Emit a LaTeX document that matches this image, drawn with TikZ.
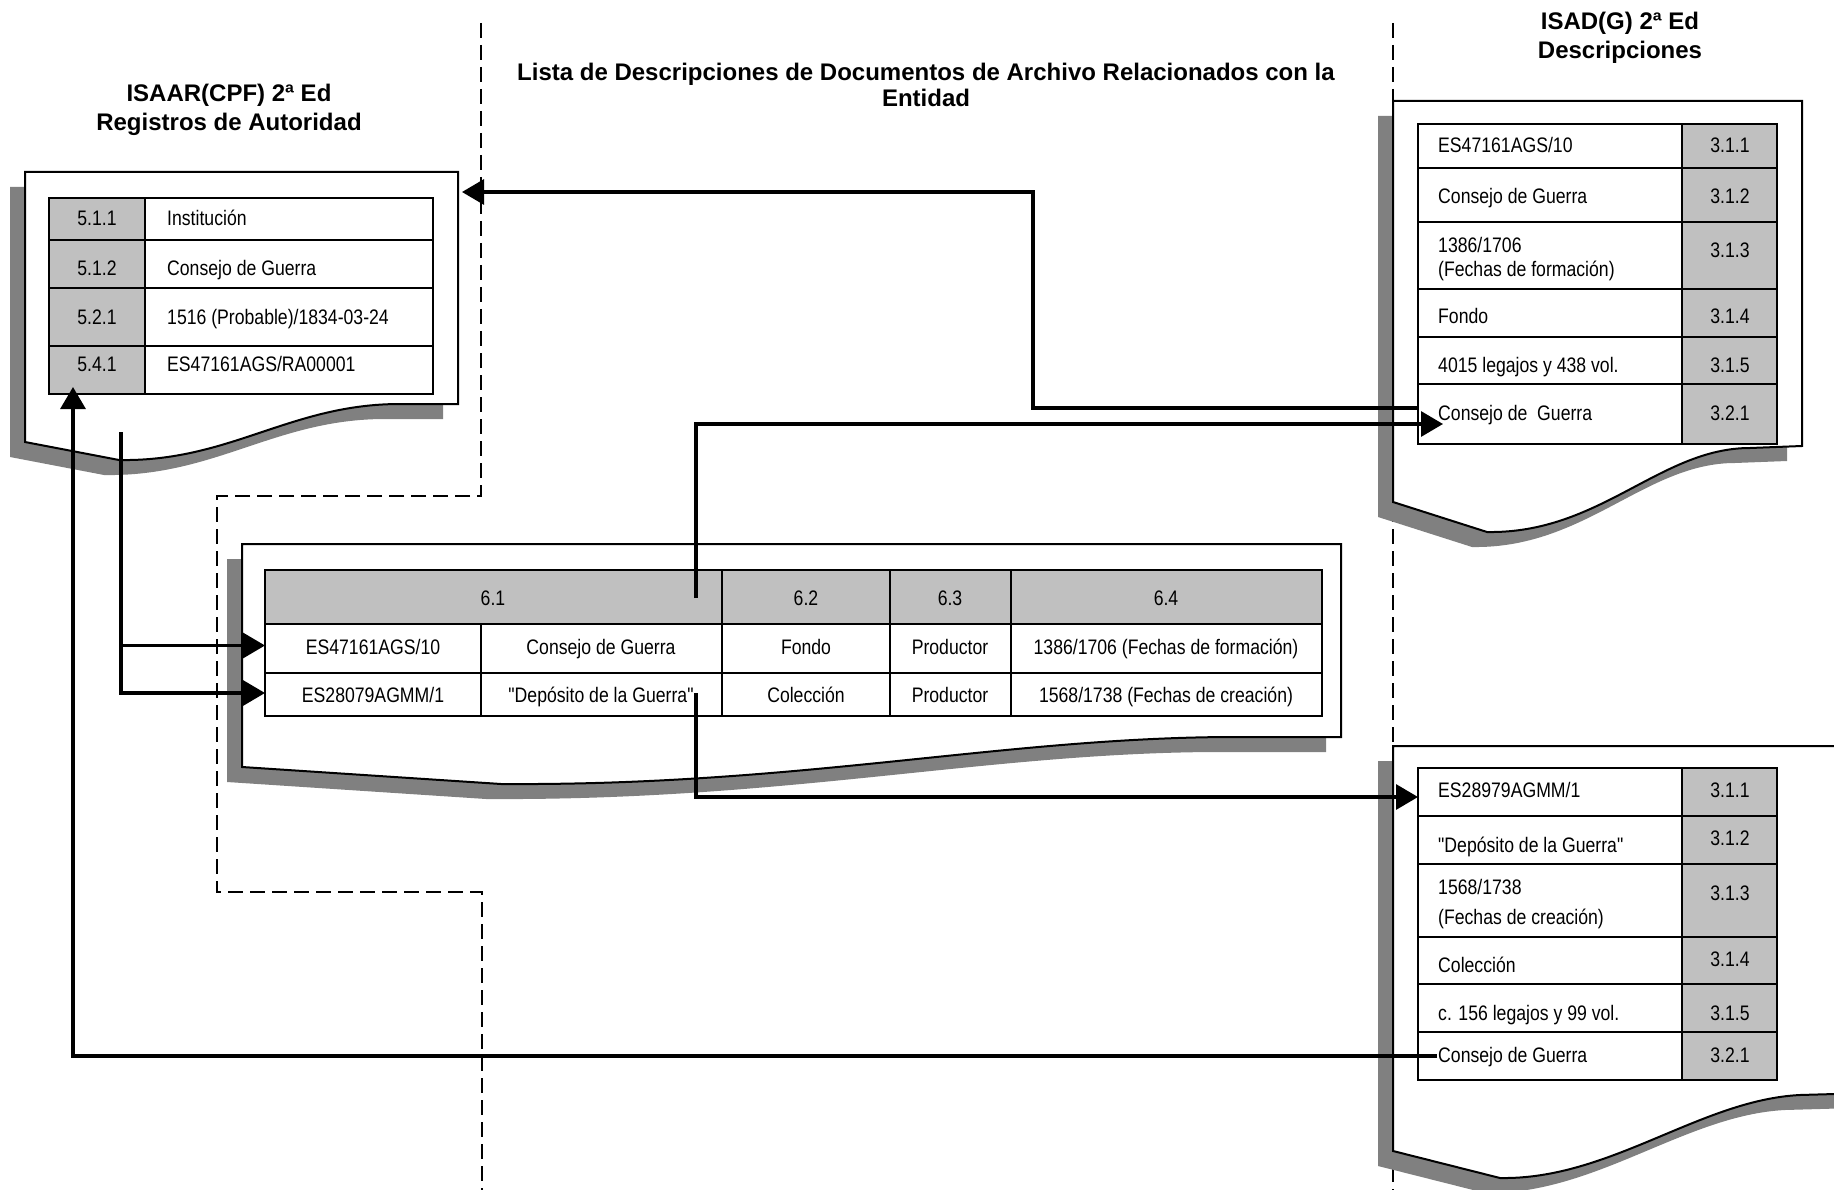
\documentclass[tikz,border=0pt]{standalone}
\usepackage{fontspec}
\setmainfont{Liberation Sans}
\newfontfamily\narrowf[FakeStretch=0.84]{Liberation Sans}
\usetikzlibrary{arrows.meta,fit}
\definecolor{shadowgray}{HTML}{808080}
\definecolor{cellgray}{HTML}{C0C0C0}
\tikzset{
  docline/.style={draw=black, line width=2pt, fill=white, line join=miter},
  docshadow/.style={fill=shadowgray},
  cellbox/.style={draw=black, line width=2pt, inner sep=0pt, outer sep=0pt},
  graycell/.style={cellbox, fill=cellgray},
  whitecell/.style={cellbox, fill=white},
  celltext/.style={font=\narrowf\fontsize{21}{25}\selectfont, inner sep=0pt, text height=15pt, text depth=0pt},
  titletext/.style={font=\bfseries\fontsize{24}{28}\selectfont, inner sep=0pt, text height=17pt, text depth=0pt},
  divider/.style={draw=black, line width=1.8pt, dash pattern=on 15pt off 7pt},
  conn/.style={draw=black, line width=3.2pt},
  tip/.style={-{Triangle[length=22pt,width=25pt]}},
}
\def\ldpath{(25,172) -- (458,172) -- (458,404) -- (400,404) .. controls (290,404) and (230,462) .. (119,460) -- (25,442) -- cycle}
\def\mdpath{(242,544) -- (1341,544) -- (1341,737) -- (1230,737) .. controls (1000,738) and (800,786) .. (501,784) -- (242,767) -- cycle}
\def\rdapath{(1393,101) -- (1802,101) -- (1802,446) -- (1750,448) .. controls (1660,448) and (1600,534) .. (1487,532) -- (1393,502) -- cycle}
\def\rdbpath{(1393,746) -- (1870,746) -- (1870,1093) -- (1800,1095) .. controls (1700,1100) and (1610,1180) .. (1500,1178) -- (1393,1151) -- cycle}
\begin{document}
\begin{tikzpicture}[x=1pt,y=-1pt]
\useasboundingbox (0,0) rectangle (1834,1190);
\fill[white] (0,0) rectangle (1834,1190);
\clip (0,0) rectangle (1834,1190);

% section dividers
\draw[divider] (481,23) -- (481,496) -- (217,496) -- (217,892) -- (482,892) -- (482,1190);
\draw[divider] (1393,23) -- (1393,1190);

% titles
\node[titletext] (tl1) at (229,93) {ISAAR(CPF) 2ª Ed};
\node[titletext] (tl2) at (229,122) {Registros de Autoridad};
\node[titletext] (tm1) at (926,72) {Lista de Descripciones de Documentos de Archivo Relacionados con la};
\node[titletext] (tm2) at (926,98) {Entidad};
\node[titletext] (tr1) at (1620,21) {ISAD(G) 2ª Ed};
\node[titletext] (tr2) at (1620,50) {Descripciones};

% document sheets with shadows
\begin{scope}[shift={(-15,15)}]
  \path[docshadow] \ldpath;
  \path[docshadow] \mdpath;
  \path[docshadow] \rdapath;
  \path[docshadow] \rdbpath;
\end{scope}
\path[docline] \ldpath;
\path[docline] \mdpath;
\path[docline] \rdapath;
\path[docline] \rdbpath;

% ---------- left table (ISAAR)
\node[graycell,  fit={(49,198) (145,240)}] (lt1g) {};
\node[whitecell, fit={(145,198) (433,240)}] (lt1t) {};
\node[graycell,  fit={(49,240) (145,288)}] (lt2g) {};
\node[whitecell, fit={(145,240) (433,288)}] (lt2t) {};
\node[graycell,  fit={(49,288) (145,346)}] (lt3g) {};
\node[whitecell, fit={(145,288) (433,346)}] (lt3t) {};
\node[graycell,  fit={(49,346) (145,394)}] (lt4g) {};
\node[whitecell, fit={(145,346) (433,394)}] (lt4t) {};
\node[celltext] (x511) at (97,218) {5.1.1};
\node[celltext, anchor=west] (v511) at (167,218) {Institución};
\node[celltext] (x512) at (97,268) {5.1.2};
\node[celltext, anchor=west] (v512) at (167,268) {Consejo de Guerra};
\node[celltext] (x521) at (97,317) {5.2.1};
\node[celltext, anchor=west] (v521) at (167,317) {1516 (Probable)/1834-03-24};
\node[celltext] (x541) at (97,364) {5.4.1};
\node[celltext, anchor=west] (v541) at (167,364) {ES47161AGS/RA00001};

% ---------- right top table (ISAD 1)
\node[whitecell, fit={(1418,124) (1682,168)}] (rt1t1) {};
\node[graycell,  fit={(1682,124) (1777,168)}] (rt1g1) {};
\node[whitecell, fit={(1418,168) (1682,222)}] (rt1t2) {};
\node[graycell,  fit={(1682,168) (1777,222)}] (rt1g2) {};
\node[whitecell, fit={(1418,222) (1682,289)}] (rt1t3) {};
\node[graycell,  fit={(1682,222) (1777,289)}] (rt1g3) {};
\node[whitecell, fit={(1418,289) (1682,337)}] (rt1t4) {};
\node[graycell,  fit={(1682,289) (1777,337)}] (rt1g4) {};
\node[whitecell, fit={(1418,337) (1682,384)}] (rt1t5) {};
\node[graycell,  fit={(1682,337) (1777,384)}] (rt1g5) {};
\node[whitecell, fit={(1418,384) (1682,444)}] (rt1t6) {};
\node[graycell,  fit={(1682,384) (1777,444)}] (rt1g6) {};
\node[celltext, anchor=west] (a1) at (1438,145) {ES47161AGS/10};
\node[celltext] (a1n) at (1730,145) {3.1.1};
\node[celltext, anchor=west] (a2) at (1438,196) {Consejo de Guerra};
\node[celltext] (a2n) at (1730,196) {3.1.2};
\node[celltext, anchor=west] (a3) at (1438,245) {1386/1706};
\node[celltext, anchor=west] (a3b) at (1438,269) {(Fechas de formación)};
\node[celltext] (a3n) at (1730,250) {3.1.3};
\node[celltext, anchor=west] (a4) at (1438,316) {Fondo};
\node[celltext] (a4n) at (1730,316) {3.1.4};
\node[celltext, anchor=west] (a5) at (1438,365) {4015 legajos y 438 vol.};
\node[celltext] (a5n) at (1730,365) {3.1.5};
\node[celltext, anchor=west] (a6) at (1438,413) {Consejo de\ \ Guerra};
\node[celltext] (a6n) at (1730,413) {3.2.1};

% ---------- right lower table (ISAD 2)
\node[whitecell, fit={(1418,768) (1682,816)}] (rt2t1) {};
\node[graycell,  fit={(1682,768) (1777,816)}] (rt2g1) {};
\node[whitecell, fit={(1418,816) (1682,864)}] (rt2t2) {};
\node[graycell,  fit={(1682,816) (1777,864)}] (rt2g2) {};
\node[whitecell, fit={(1418,864) (1682,937)}] (rt2t3) {};
\node[graycell,  fit={(1682,864) (1777,937)}] (rt2g3) {};
\node[whitecell, fit={(1418,937) (1682,984)}] (rt2t4) {};
\node[graycell,  fit={(1682,937) (1777,984)}] (rt2g4) {};
\node[whitecell, fit={(1418,984) (1682,1032)}] (rt2t5) {};
\node[graycell,  fit={(1682,984) (1777,1032)}] (rt2g5) {};
\node[whitecell, fit={(1418,1032) (1682,1080)}] (rt2t6) {};
\node[graycell,  fit={(1682,1032) (1777,1080)}] (rt2g6) {};
\node[celltext, anchor=west] (b1) at (1438,790) {ES28979AGMM/1};
\node[celltext] (b1n) at (1730,790) {3.1.1};
\node[celltext, anchor=west] (b2) at (1438,845) {"Depósito de la Guerra"};
\node[celltext] (b2n) at (1730,838) {3.1.2};
\node[celltext, anchor=west] (b3) at (1438,887) {1568/1738};
\node[celltext, anchor=west] (b3b) at (1438,917) {(Fechas de creación)};
\node[celltext] (b3n) at (1730,893) {3.1.3};
\node[celltext, anchor=west] (b4) at (1438,965) {Colección};
\node[celltext] (b4n) at (1730,959) {3.1.4};
\node[celltext, anchor=west] (b5) at (1438,1013) {c. 156 legajos y 99 vol.};
\node[celltext] (b5n) at (1730,1013) {3.1.5};
\node[celltext, anchor=west] (b6) at (1438,1055) {Consejo de Guerra};
\node[celltext] (b6n) at (1730,1055) {3.2.1};

% ---------- middle table (list)
\node[graycell,  fit={(265,570) (722,624)}] (mh1) {};
\node[graycell,  fit={(722,570) (890,624)}] (mh2) {};
\node[graycell,  fit={(890,570) (1011,624)}] (mh3) {};
\node[graycell,  fit={(1011,570) (1322,624)}] (mh4) {};
\node[whitecell, fit={(265,624) (481,673)}] (m1a) {};
\node[whitecell, fit={(481,624) (722,673)}] (m1b) {};
\node[whitecell, fit={(722,624) (890,673)}] (m1c) {};
\node[whitecell, fit={(890,624) (1011,673)}] (m1d) {};
\node[whitecell, fit={(1011,624) (1322,673)}] (m1e) {};
\node[whitecell, fit={(265,673) (481,716)}] (m2a) {};
\node[whitecell, fit={(481,673) (722,716)}] (m2b) {};
\node[whitecell, fit={(722,673) (890,716)}] (m2c) {};
\node[whitecell, fit={(890,673) (1011,716)}] (m2d) {};
\node[whitecell, fit={(1011,673) (1322,716)}] (m2e) {};
\node[celltext] (h1) at (493,598) {6.1};
\node[celltext] (h2) at (806,598) {6.2};
\node[celltext] (h3) at (950,598) {6.3};
\node[celltext] (h4) at (1166,598) {6.4};
\node[celltext] (c1a) at (373,647) {ES47161AGS/10};
\node[celltext] (c1b) at (601,647) {Consejo de Guerra};
\node[celltext] (c1c) at (806,647) {Fondo};
\node[celltext] (c1d) at (950,647) {Productor};
\node[celltext] (c1e) at (1166,647) {1386/1706 (Fechas de formación)};
\node[celltext] (c2a) at (373,695) {ES28079AGMM/1};
\node[celltext] (c2b) at (601,695) {"Depósito de la Guerra"};
\node[celltext] (c2c) at (806,695) {Colección};
\node[celltext] (c2d) at (950,695) {Productor};
\node[celltext] (c2e) at (1166,695) {1568/1738 (Fechas de creación)};

% ---------- connectors
\coordinate (ldocR) at (462,192);
\coordinate (ldocsrc) at (121,432);
\coordinate (hdrsrc) at (696,598);
\coordinate (depsrc) at (696,693);

\draw[conn, tip] ([yshift=6pt]rt1t6.west) -- ++(-385,0) |- (ldocR);
\draw[conn, tip] (hdrsrc) |- ([xshift=25pt,yshift=-10pt]rt1t6.west);
\draw[conn, tip] (ldocsrc) |- ([yshift=3pt]m1a.west);
\draw[conn, tip] (ldocsrc) |- ([yshift=1.5pt]m2a.west);
\draw[conn, tip] (depsrc) |- ([yshift=-5pt]rt2t1.west);
\draw[conn, tip] ([xshift=19pt]rt2t6.west) -| ([xshift=-24pt,yshift=7pt]lt4g.south);
\end{tikzpicture}
\end{document}
